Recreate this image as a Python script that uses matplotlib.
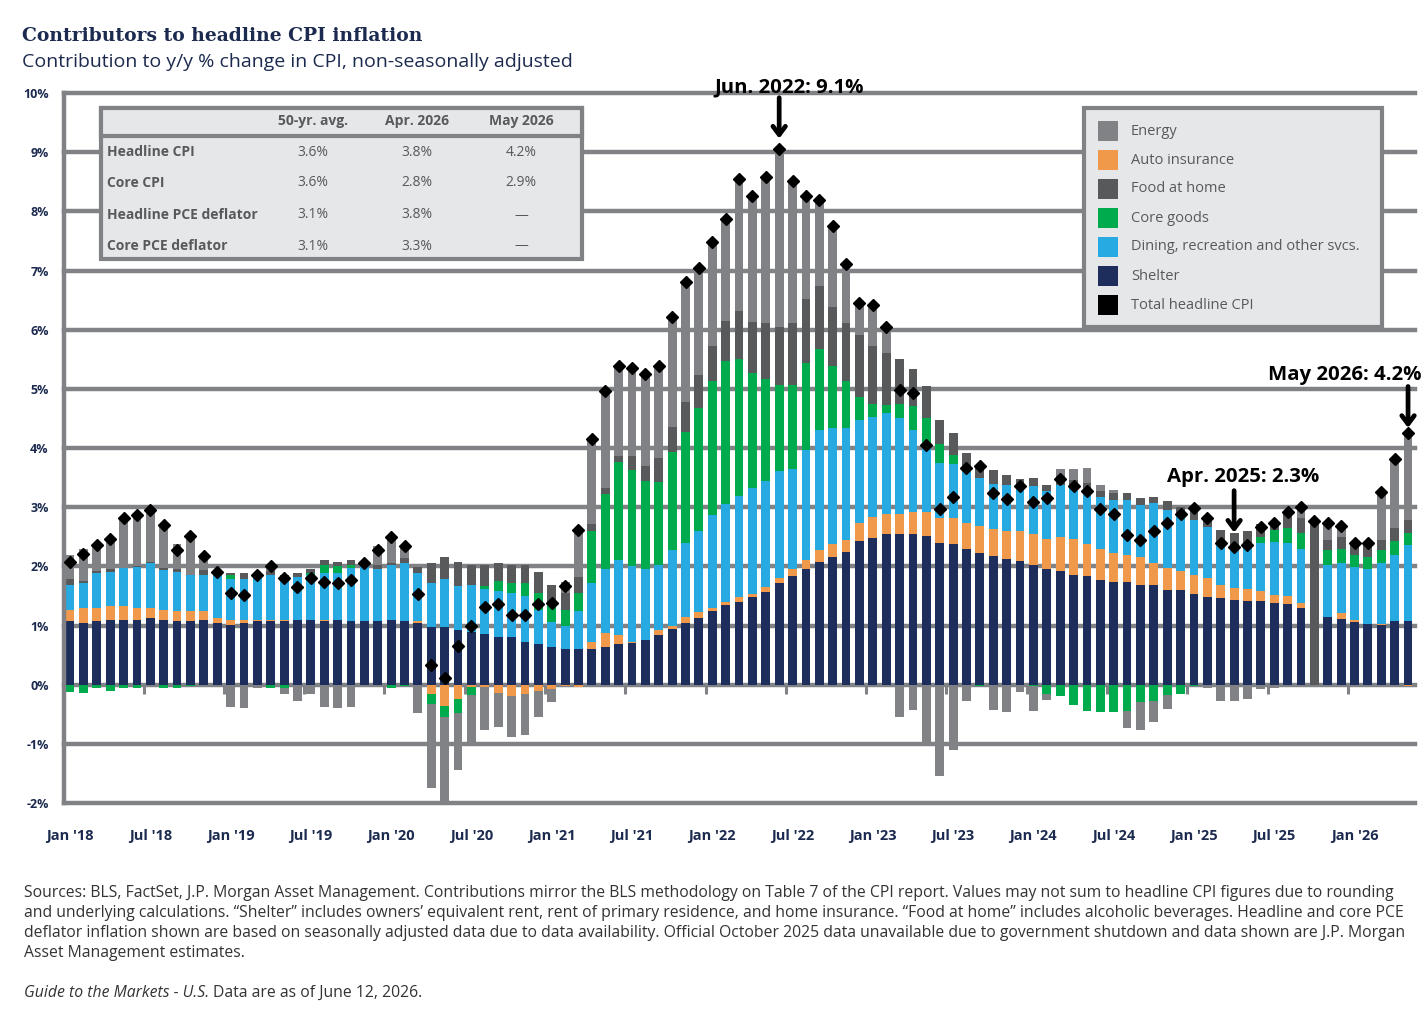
import numpy as np
import pandas as pd
import matplotlib
matplotlib.use("Agg")
import matplotlib.pyplot as plt
from matplotlib.patches import Rectangle

# ---------------- data ----------------
months = pd.date_range("2018-01-01", periods=101, freq="MS")

shelter = [1.07, 1.04, 1.07, 1.10, 1.10, 1.10, 1.12, 1.10, 1.07, 1.07, 1.10, 1.04,
           1.01, 1.04, 1.07, 1.07, 1.07, 1.10, 1.10, 1.07, 1.10, 1.07, 1.07, 1.07,
           1.10, 1.07, 1.04, 0.98, 0.98, 0.93, 0.89, 0.86, 0.81, 0.81, 0.72, 0.69,
           0.63, 0.60, 0.60, 0.61, 0.63, 0.68, 0.70, 0.76, 0.84, 0.94, 1.04, 1.13,
           1.24, 1.34, 1.40, 1.48, 1.57, 1.71, 1.83, 1.96, 2.08, 2.16, 2.25, 2.43,
           2.48, 2.55, 2.55, 2.55, 2.52, 2.40, 2.37, 2.29, 2.23, 2.17, 2.12, 2.09,
           2.03, 1.95, 1.92, 1.85, 1.84, 1.77, 1.74, 1.74, 1.68, 1.68, 1.60, 1.60,
           1.54, 1.49, 1.47, 1.43, 1.41, 1.41, 1.38, 1.36, 1.30, 0.00, 1.15, 1.11,
           1.06, 1.03, 1.01, 1.08, 1.08]
auto_insurance = [0.20, 0.26, 0.23, 0.23, 0.23, 0.20, 0.18, 0.17, 0.17, 0.17, 0.14, 0.08,
                  0.09, 0.06, 0.03, 0.03, 0.02, 0.00, 0.00, 0.03, 0.00, 0.00, 0.00, 0.00,
                  0.00, 0.00, 0.03, -0.16, -0.36, -0.24, -0.04, -0.04, -0.14, -0.19, -0.15, -0.10,
                  -0.07, -0.03, -0.04, 0.11, 0.25, 0.16, 0.02, 0.00, 0.08, 0.06, 0.11, 0.10,
                  0.06, 0.06, 0.08, 0.05, 0.08, 0.09, 0.12, 0.15, 0.19, 0.21, 0.20, 0.30,
                  0.35, 0.34, 0.34, 0.37, 0.40, 0.41, 0.44, 0.45, 0.45, 0.46, 0.48, 0.51,
                  0.52, 0.51, 0.57, 0.61, 0.54, 0.52, 0.49, 0.46, 0.47, 0.38, 0.37, 0.32,
                  0.31, 0.32, 0.22, 0.21, 0.20, 0.17, 0.13, 0.14, 0.08, 0.00, 0.00, 0.10,
                  0.03, 0.00, 0.02, 0.00, -0.03]
dining_rec = [0.42, 0.41, 0.58, 0.57, 0.64, 0.69, 0.76, 0.66, 0.67, 0.61, 0.62, 0.73,
              0.68, 0.68, 0.71, 0.75, 0.72, 0.72, 0.76, 0.79, 0.79, 0.90, 0.93, 0.89,
              0.92, 0.98, 0.82, 0.74, 0.80, 0.74, 0.79, 0.75, 0.77, 0.74, 0.78, 0.58,
              0.43, 0.40, 0.64, 1.00, 1.08, 1.27, 1.28, 1.19, 1.11, 1.27, 1.25, 1.37,
              1.57, 1.65, 1.71, 1.80, 1.80, 1.81, 1.70, 1.86, 2.04, 1.96, 1.88, 1.74,
              1.70, 1.70, 1.62, 1.39, 1.11, 0.94, 0.92, 0.91, 0.81, 0.77, 0.78, 0.78,
              0.80, 0.81, 0.89, 0.89, 0.89, 0.89, 0.89, 0.92, 0.89, 1.01, 0.98, 0.95,
              0.94, 0.85, 0.71, 0.67, 0.71, 0.81, 0.90, 0.89, 0.92, 0.00, 0.87, 0.84,
              0.90, 0.93, 1.02, 1.11, 1.28]
core_goods = [-0.12, -0.14, -0.06, -0.10, -0.06, -0.05, 0.00, -0.05, -0.05, -0.02, 0.00, 0.00,
              0.07, 0.00, 0.00, -0.05, -0.05, 0.00, 0.03, 0.14, 0.11, 0.05, 0.01, 0.00,
              -0.05, -0.03, 0.00, -0.17, -0.19, -0.24, -0.14, 0.06, 0.17, 0.17, 0.22, 0.28,
              0.31, 0.27, 0.31, 0.87, 1.27, 1.66, 1.63, 1.50, 1.40, 1.66, 1.87, 2.07,
              2.27, 2.42, 2.31, 1.94, 1.72, 1.46, 1.42, 1.46, 1.36, 1.06, 0.81, 0.40,
              0.22, 0.14, 0.24, 0.40, 0.47, 0.32, 0.16, 0.00, -0.02, 0.00, 0.00, 0.00,
              -0.02, -0.15, -0.19, -0.35, -0.44, -0.46, -0.46, -0.45, -0.29, -0.28, -0.17, -0.15,
              -0.03, 0.00, 0.00, 0.03, 0.00, 0.11, 0.20, 0.25, 0.26, 0.00, 0.25, 0.25,
              0.20, 0.20, 0.22, 0.23, 0.20]
food_at_home = [0.09, 0.04, 0.04, 0.05, 0.01, 0.02, 0.02, 0.05, 0.05, 0.01, 0.07, 0.05,
                0.04, 0.11, 0.03, 0.07, 0.05, 0.07, 0.07, 0.07, 0.07, 0.08, 0.05, 0.06,
                0.04, 0.09, 0.10, 0.33, 0.38, 0.40, 0.34, 0.35, 0.30, 0.30, 0.30, 0.35,
                0.31, 0.28, 0.27, 0.12, 0.10, 0.10, 0.24, 0.24, 0.40, 0.42, 0.51, 0.56,
                0.59, 0.68, 0.81, 0.86, 0.94, 0.98, 1.04, 1.08, 1.07, 1.00, 0.97, 1.04,
                0.98, 0.88, 0.75, 0.62, 0.55, 0.40, 0.36, 0.26, 0.22, 0.22, 0.17, 0.10,
                0.15, 0.11, 0.14, 0.11, 0.14, 0.10, 0.12, 0.12, 0.11, 0.11, 0.15, 0.14,
                0.22, 0.15, 0.21, 0.22, 0.27, 0.21, 0.16, 0.24, 0.25, 0.00, 0.17, 0.20,
                0.21, 0.24, 0.17, 0.22, 0.23]
energy = [0.41, 0.55, 0.44, 0.52, 0.83, 0.85, 0.90, 0.72, 0.41, 0.67, 0.23, -0.02,
          -0.37, -0.40, -0.05, 0.08, -0.10, -0.28, -0.16, -0.37, -0.40, -0.37, -0.02, 0.32,
          0.43, 0.20, -0.48, -1.41, -1.48, -0.97, -0.86, -0.73, -0.57, -0.69, -0.70, -0.45,
          -0.23, 0.19, 0.80, 1.44, 1.64, 1.51, 1.48, 1.54, 1.55, 1.86, 2.03, 1.82,
          1.75, 1.73, 2.22, 2.12, 2.49, 3.01, 2.42, 1.77, 1.44, 1.37, 0.98, 0.52,
          0.66, 0.42, -0.55, -0.43, -1.02, -1.54, -1.11, -0.28, 0.00, -0.42, -0.46, -0.12,
          -0.43, -0.11, 0.12, 0.18, 0.25, 0.10, 0.05, -0.29, -0.48, -0.35, -0.24, 0.00,
          0.00, -0.05, -0.28, -0.28, -0.25, -0.07, -0.05, 0.03, 0.20, 0.00, 0.27, 0.16,
          0.00, 0.00, 0.78, 1.17, 1.45]
headline_cpi = [2.07, 2.21, 2.36, 2.46, 2.81, 2.87, 2.95, 2.70, 2.28, 2.52, 2.18, 1.91,
                1.55, 1.51, 1.86, 2.00, 1.80, 1.65, 1.81, 1.73, 1.71, 1.77, 2.05, 2.28,
                2.49, 2.34, 1.54, 0.33, 0.12, 0.65, 0.99, 1.31, 1.37, 1.18, 1.17, 1.36,
                1.38, 1.67, 2.62, 4.15, 4.97, 5.38, 5.35, 5.25, 5.38, 6.21, 6.81, 7.04,
                7.48, 7.87, 8.54, 8.26, 8.58, 9.06, 8.52, 8.26, 8.20, 7.75, 7.11, 6.45,
                6.41, 6.04, 4.98, 4.93, 4.05, 2.97, 3.18, 3.67, 3.70, 3.24, 3.14, 3.35,
                3.09, 3.15, 3.48, 3.35, 3.27, 2.97, 2.89, 2.53, 2.44, 2.60, 2.73, 2.89,
                2.99, 2.82, 2.39, 2.33, 2.36, 2.67, 2.73, 2.92, 3.01, 2.77, 2.74, 2.68,
                2.40, 2.40, 3.25, 3.81, 4.26]
estimate_month = "2025-10"
estimate_total = 2.77

table_cols = ["50-yr. avg.", "Apr. 2026", "May 2026"]
table_rows = ["Headline CPI", "Core CPI", "Headline PCE deflator", "Core PCE deflator"]
table_vals = [["3.6%", "3.8%", "4.2%"],
              ["3.6%", "2.8%", "2.9%"],
              ["3.1%", "3.8%", "\u2014"],
              ["3.1%", "3.3%", "\u2014"]]

callouts = [("2022-06", "Jun. 2022: 9.1%"), ("2025-04", "Apr. 2025: 2.3%"), ("2026-05", "May 2026: 4.2%")]

# ---------------- style ----------------
W, H = 1425, 1013
NAVY = "#1b2a4e"
GRID = "#808285"
TXT = "#58595b"
colors = {
    "Shelter": "#1d2d5c",
    "Auto insurance": "#f0994a",
    "Dining, recreation and other svcs.": "#27a9e1",
    "Core goods": "#00ab4e",
    "Food at home": "#58595b",
    "Energy": "#808285",
}
SANS = ["Open Sans", "DejaVu Sans"]
plt.rcParams["font.family"] = SANS

def fx(x):
    return x / W

def fy(y):
    return 1 - y / H

fig = plt.figure(figsize=(W / 100, H / 100), dpi=100)
ax = fig.add_axes([fx(64), fy(803), (1415 - 64) / W, (803 - 93) / H])

x = np.arange(len(months))
series = [("Shelter", shelter), ("Auto insurance", auto_insurance),
          ("Dining, recreation and other svcs.", dining_rec), ("Core goods", core_goods),
          ("Food at home", food_at_home), ("Energy", energy)]
pos_base = np.zeros(len(x))
neg_base = np.zeros(len(x))
bw = 0.66
for name, vals in series:
    v = np.asarray(vals, dtype=float)
    bottoms = np.where(v >= 0, pos_base, neg_base)
    ax.bar(x, v, bw, bottom=bottoms, color=colors[name], linewidth=0, zorder=2)
    pos_base = pos_base + np.clip(v, 0, None)
    neg_base = neg_base + np.clip(v, None, 0)

# October 2025 estimate bar
month_keys = list(months.strftime("%Y-%m"))
est_idx = month_keys.index(estimate_month)
ax.bar([est_idx], [estimate_total], bw, color=colors["Food at home"], linewidth=0, zorder=2)

ax.plot(x, headline_cpi, linestyle="none", marker="D", markersize=6.5, color="black",
        zorder=4, clip_on=False)

# grid / axes
yt = np.arange(-2, 11)
for v in yt:
    ax.axhline(v, color=GRID, lw=3.2, zorder=0, clip_on=False)
ax.set_ylim(-2, 10)
ax.set_xlim(-0.45, len(x) - 0.48)
ax.set_yticks(yt)
ax.set_yticklabels([f"{v}%" for v in yt], fontsize=9, fontweight="bold", color=NAVY)
ax.tick_params(axis="y", length=0, pad=11)
for s in ["top", "right", "bottom"]:
    ax.spines[s].set_visible(False)
ax.spines["left"].set_color(GRID)
ax.spines["left"].set_linewidth(3.2)

# x ticks
lab_idx = [i for i, m in enumerate(months) if m.month in (1, 7)]
ax.set_xticks(lab_idx)
ax.set_xticklabels([months[i].strftime("%b '%y") for i in lab_idx], fontsize=10.5,
                   fontweight="bold", color=NAVY)
ax.tick_params(axis="x", length=0, pad=19)
bounds = [i - 0.5 for i in lab_idx if i > 0]
ax.vlines(bounds, -0.15, 0, color=GRID, lw=2.2, zorder=1)

# callouts: (text dx, text dy, arrow tail dy, arrow tip dy)
callout_pos = {"2022-06": (0.76, 1.04, 0.86, 0.17),
               "2025-04": (0.65, 1.18, 0.95, 0.24),
               "2026-05": (-4.7, 0.98, 0.78, 0.08)}
for key, label in callouts:
    i = month_keys.index(key)
    val = headline_cpi[i]
    dx, dy, tail, tip = callout_pos[key]
    ax.annotate("", xy=(i, val + tip), xytext=(i, val + tail),
                arrowprops=dict(arrowstyle="->,head_length=0.6,head_width=0.45", lw=3.4,
                                color="black", shrinkA=0, shrinkB=0),
                annotation_clip=False, zorder=5)
    ax.text(i + dx, val + dy, label, ha="center", va="center", fontsize=14.7,
            fontweight="bold", color="black", zorder=5, clip_on=False)

# ---------------- titles ----------------
fig.text(fx(22), fy(36), "Contributors to headline CPI inflation", fontsize=13.5,
         fontweight="bold", color=NAVY, family=["DejaVu Serif"], va="center", ha="left")
fig.text(fx(22), fy(62), "Contribution to y/y % change in CPI, non-seasonally adjusted",
         fontsize=14, color=NAVY, va="center", ha="left")

# ---------------- table ----------------
fig.add_artist(Rectangle((fx(101), fy(259)), (582 - 101) / W, (259 - 108) / H,
                         transform=fig.transFigure, facecolor="#e6e7e8", edgecolor=GRID,
                         lw=3, zorder=3))
fig.add_artist(Rectangle((fx(101), fy(136)), (582 - 101) / W, (136 - 108) / H,
                         transform=fig.transFigure, facecolor="#e6e7e8", edgecolor=GRID,
                         lw=3, zorder=3))
col_x = [313, 417, 521]
for cx, c in zip(col_x, table_cols):
    fig.text(fx(cx), fy(121), c, ha="center", va="center", fontsize=10, fontweight="bold",
             color=TXT, zorder=4)
row_y = [152, 183, 215, 246]
for ry, rl, rv in zip(row_y, table_rows, table_vals):
    fig.text(fx(107), fy(ry), rl, ha="left", va="center", fontsize=10, fontweight="bold",
             color=TXT, zorder=4)
    for cx, v in zip(col_x, rv):
        fig.text(fx(cx), fy(ry), v, ha="center", va="center", fontsize=10, color=TXT, zorder=4)

# ---------------- legend ----------------
fig.add_artist(Rectangle((fx(1084), fy(327)), (1382 - 1084) / W, (327 - 108) / H,
                         transform=fig.transFigure, facecolor="#e6e7e8", edgecolor=GRID,
                         lw=3, zorder=3))
legend_items = ["Energy", "Auto insurance", "Food at home", "Core goods",
                "Dining, recreation and other svcs.", "Shelter", "Total headline CPI"]
for k, name in enumerate(legend_items):
    yy = 131 + k * 29
    col = colors.get(name, "black")
    fig.add_artist(Rectangle((fx(1098), fy(yy + 10)), 20 / W, 20 / H, transform=fig.transFigure,
                             facecolor=col, edgecolor="none", zorder=4))
    fig.text(fx(1131), fy(yy), name, ha="left", va="center", fontsize=10.5, color=TXT, zorder=4)

# ---------------- footnote ----------------
foot = [
    "Sources: BLS, FactSet, J.P. Morgan Asset Management. Contributions mirror the BLS methodology on Table 7 of the CPI report. Values may not sum to headline CPI figures due to rounding",
    "and underlying calculations. \u201cShelter\u201d includes owners\u2019 equivalent rent, rent of primary residence, and home insurance. \u201cFood at home\u201d includes alcoholic beverages. Headline and core PCE",
    "deflator inflation shown are based on seasonally adjusted data due to data availability. Official October 2025 data unavailable due to government shutdown and data shown are J.P. Morgan",
    "Asset Management estimates.",
]
FS = 11.3
for k, line in enumerate(foot):
    fig.text(fx(24), fy(893 + 20 * k), line, ha="left", va="center", fontsize=FS, color="#333333")
t1 = fig.text(fx(24), fy(993), "Guide to the Markets - U.S.", ha="left", va="center",
              fontsize=FS, color="#333333", style="italic")
fig.canvas.draw()
bb = t1.get_window_extent()
fig.text(bb.x1 / W + 4 / W, fy(993), "Data are as of June 12, 2026.", ha="left", va="center",
         fontsize=FS, color="#333333")

fig.savefig("out.png", dpi=100)
